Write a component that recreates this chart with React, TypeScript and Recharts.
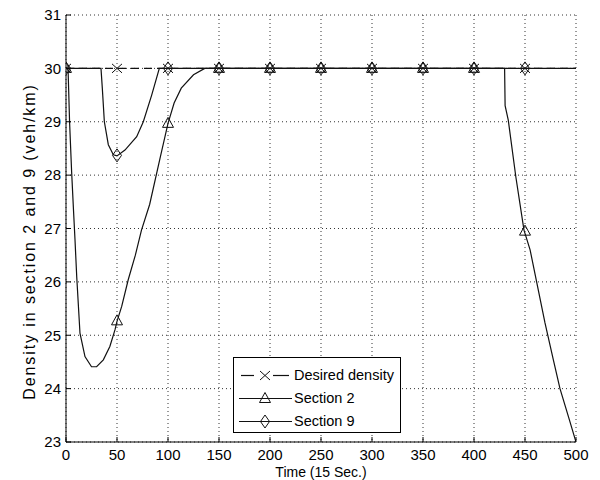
import React from 'react';
import { LineChart, Line, XAxis, YAxis, CartesianGrid } from 'recharts';

const xTicks = [0, 50, 100, 150, 200, 250, 300, 350, 400, 450, 500];
const yTicks = [23, 24, 25, 26, 27, 28, 29, 30, 31];

const seriesNames = ['Desired density', 'Section 2', 'Section 9'];
const yLabel = 'Density in section 2 and 9 (veh/km)';
const xLabel = 'Time (15 Sec.)';

const desiredT = [0, 500];
const desiredV = [30, 30];
const desiredMarkT = [0, 50, 100, 150, 200, 250, 300, 350, 400, 450];
const desiredMarkV = [30, 30, 30, 30, 30, 30, 30, 30, 30, 30];

const section2T = [0, 2, 3.5, 5.5, 7.2, 8.8, 10.5, 13.7, 18.6, 25, 30, 36.6, 43, 48, 50, 54.6, 61, 68, 74, 82, 92, 100, 106, 113, 125, 136, 430, 430.5, 433.6, 441, 449, 455, 461.4, 469.6, 477.8, 484.3, 492.5, 500];
const section2V = [30, 30, 29, 28.07, 27.4, 26.8, 26.1, 25.04, 24.6, 24.41, 24.41, 24.54, 24.79, 25.1, 25.26, 25.54, 26.04, 26.5, 26.97, 27.45, 28.3, 28.97, 29.35, 29.63, 29.88, 30, 30, 29.3, 29.03, 27.97, 26.97, 26.6, 26.0, 25.23, 24.54, 24.0, 23.48, 23.0];
const section2MarkT = [0, 50, 100, 150, 200, 250, 300, 350, 400, 450];
const section2MarkV = [30, 25.27, 28.97, 30, 30, 30, 30, 30, 30, 26.95];

const section9T = [0, 34.3, 35.6, 37.6, 41.5, 46.4, 50, 57.8, 69.3, 75.8, 84, 91.5, 500];
const section9V = [30, 30, 29.63, 29.0, 28.57, 28.38, 28.36, 28.47, 28.72, 29.0, 29.5, 30, 30];
const section9MarkT = [0, 50, 100, 150, 200, 250, 300, 350, 400, 450];
const section9MarkV = [30, 28.37, 30, 30, 30, 30, 30, 30, 30, 30];

const rows = (ts: number[], vs: number[]) => ts.map((t, i) => ({ t, v: vs[i] }));

const INK = '#111';
const FONT = 'Liberation Sans, Arial, sans-serif';

const xPath = (cx: number, cy: number) =>
  `M${cx - 5},${cy - 4.5}L${cx + 5},${cy + 4.5}M${cx - 5},${cy + 4.5}L${cx + 5},${cy - 4.5}`;
const triPath = (cx: number, cy: number) =>
  `M${cx},${cy - 6}L${cx + 5.5},${cy + 4}L${cx - 5.5},${cy + 4}Z`;
const diaPath = (cx: number, cy: number) =>
  `M${cx},${cy - 6.5}L${cx + 4.5},${cy}L${cx},${cy + 6.5}L${cx - 4.5},${cy}Z`;

const makeDot = (fn: (cx: number, cy: number) => string, name: string) => (p: any) => (
  <path key={`${name}-${p.index}`} d={fn(p.cx, p.cy)} stroke={INK} strokeWidth={1} fill="none" />
);

const legendIcons = [xPath, triPath, diaPath];

function LegendBox() {
  return (
    <div
      style={{
        position: 'absolute',
        left: 233,
        top: 357,
        width: 166,
        height: 74,
        border: '1px solid #000',
        background: '#fff',
      }}
    >
      {seriesNames.map((name, i) => (
        <div
          key={name}
          style={{ position: 'absolute', left: 0, top: 6 + i * 23, height: 23, width: 166 }}
        >
          <svg width={60} height={23} style={{ position: 'absolute', left: 0, top: 0 }}>
            {i === 0 ? (
              <g>
                <line x1={7} y1={11.5} x2={20} y2={11.5} stroke={INK} strokeWidth={1.2} />
                <line x1={39} y1={11.5} x2={55} y2={11.5} stroke={INK} strokeWidth={1.2} />
              </g>
            ) : (
              <line x1={5} y1={11.5} x2={58} y2={11.5} stroke={INK} strokeWidth={1.2} />
            )}
            <path d={legendIcons[i](31, 11.5)} stroke={INK} fill="none" />
          </svg>
          <span
            style={{
              position: 'absolute',
              left: 60,
              top: 2,
              fontFamily: FONT,
              fontSize: 14.5,
              lineHeight: '18px',
              color: '#000',
              whiteSpace: 'nowrap',
            }}
          >
            {name}
          </span>
        </div>
      ))}
    </div>
  );
}

export default function App() {
  const tickStyle = { fontSize: 15, fill: '#000', fontFamily: FONT };
  return (
    <div style={{ position: 'absolute', left: 0, top: 0, width: 600, height: 480, background: '#fff', overflow: 'hidden' }}>
      <LineChart width={600} height={480} margin={{ top: 15, right: 24, bottom: 0, left: 0 }}>
        <CartesianGrid stroke="#333" strokeDasharray="1 3" />
        <XAxis
          dataKey="t"
          type="number"
          domain={[0, 500]}
          ticks={xTicks}
          interval={0}
          height={38}
          tickSize={-5}
          tickMargin={12}
          stroke="#000"
          tickLine={{ stroke: '#000' }}
          tick={tickStyle}
          allowDataOverflow
          label={{
            content: () => (
              <text x={321} y={477} textAnchor="middle" fontSize={14} fontFamily={FONT} fill="#000">
                {xLabel}
              </text>
            ),
          }}
        />
        <XAxis
          xAxisId="top"
          orientation="top"
          dataKey="t"
          type="number"
          domain={[0, 500]}
          ticks={xTicks}
          interval={0}
          height={0}
          tickSize={-5}
          tick={false}
          stroke="#000"
          tickLine={{ stroke: '#000' }}
          allowDataOverflow
        />
        <YAxis
          type="number"
          domain={[23, 31]}
          ticks={yTicks}
          interval={0}
          width={66}
          tickSize={-5}
          tickMargin={10}
          stroke="#000"
          tickLine={{ stroke: '#000' }}
          tick={tickStyle}
          allowDataOverflow
          label={{
            content: () => (
              <text
                x={35}
                y={241.5}
                transform="rotate(-90 35 241.5)"
                textAnchor="middle"
                fontSize={16}
                letterSpacing={1.9}
                fontFamily={FONT}
                fill="#000"
              >
                {yLabel}
              </text>
            ),
          }}
        />
        <YAxis
          yAxisId="right"
          orientation="right"
          type="number"
          domain={[23, 31]}
          ticks={yTicks}
          interval={0}
          width={0}
          tickSize={-5}
          tick={false}
          stroke="#000"
          tickLine={{ stroke: '#000' }}
          allowDataOverflow
        />
        <Line
          data={rows(desiredT, desiredV)}
          dataKey="v"
          type="linear"
          stroke={INK}
          strokeWidth={1.2}
          strokeDasharray="8 5"
          dot={false}
          activeDot={false}
          isAnimationActive={false}
        />
        <Line
          data={rows(section2T, section2V)}
          dataKey="v"
          type="linear"
          stroke={INK}
          strokeWidth={1.2}
          dot={false}
          activeDot={false}
          isAnimationActive={false}
        />
        <Line
          data={rows(section9T, section9V)}
          dataKey="v"
          type="linear"
          stroke={INK}
          strokeWidth={1.2}
          dot={false}
          activeDot={false}
          isAnimationActive={false}
        />
        <Line
          data={rows(desiredMarkT, desiredMarkV)}
          dataKey="v"
          stroke="none"
          dot={makeDot(xPath, 'x')}
          activeDot={false}
          isAnimationActive={false}
        />
        <Line
          data={rows(section2MarkT, section2MarkV)}
          dataKey="v"
          stroke="none"
          dot={makeDot(triPath, 'tri')}
          activeDot={false}
          isAnimationActive={false}
        />
        <Line
          data={rows(section9MarkT, section9MarkV)}
          dataKey="v"
          stroke="none"
          dot={makeDot(diaPath, 'dia')}
          activeDot={false}
          isAnimationActive={false}
        />
      </LineChart>
      <LegendBox />
    </div>
  );
}
